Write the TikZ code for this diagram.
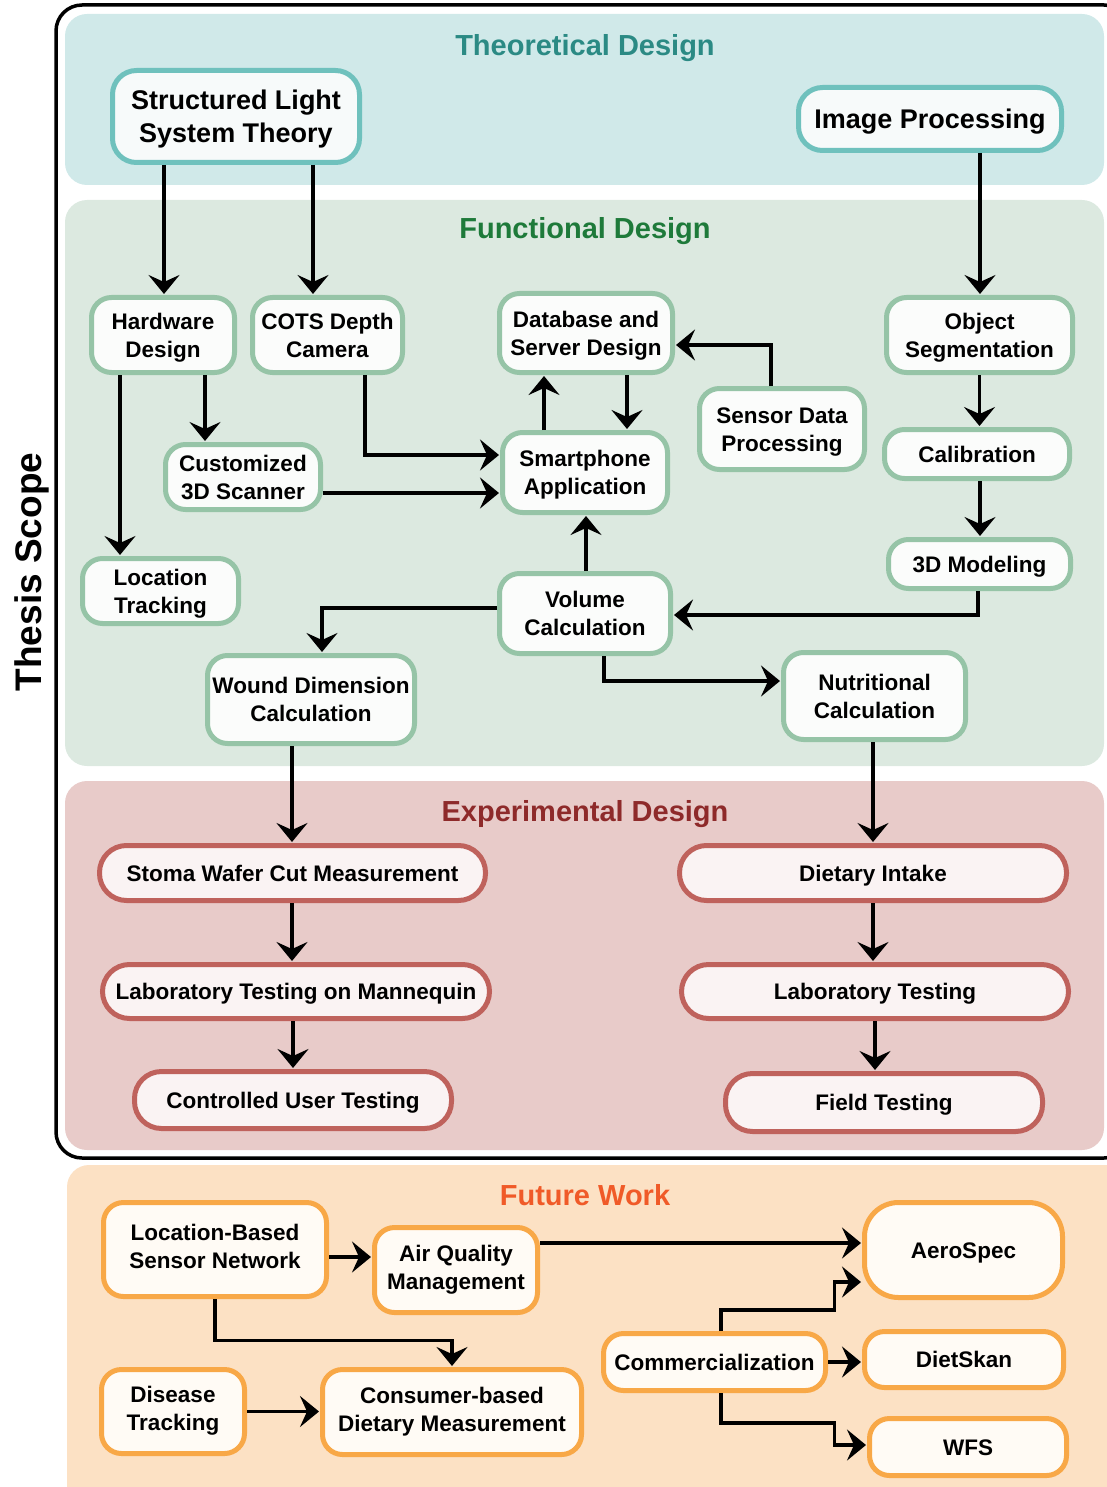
\documentclass[tikz,border=0pt]{standalone}
\usepackage{fontspec}
\setmainfont{Liberation Sans}
\usetikzlibrary{arrows.meta,calc}

% band and box colours
\definecolor{theoBg}{HTML}{D0E9E9}
\definecolor{theoLine}{HTML}{6FC1BD}
\definecolor{theoFill}{HTML}{F7FAFA}
\definecolor{theoTitle}{HTML}{2B8A84}
\definecolor{funcBg}{HTML}{DCE9E0}
\definecolor{funcLine}{HTML}{96C4A7}
\definecolor{funcFill}{HTML}{FBFCFB}
\definecolor{funcTitle}{HTML}{1E7A3A}
\definecolor{expBg}{HTML}{E8CBC9}
\definecolor{expLine}{HTML}{BF625C}
\definecolor{expFill}{HTML}{FAF3F3}
\definecolor{expTitle}{HTML}{8E2A2A}
\definecolor{futBg}{HTML}{FCE1C4}
\definecolor{futLine}{HTML}{F8A847}
\definecolor{futFill}{HTML}{FFFBF5}
\definecolor{futTitle}{HTML}{F05A28}

% invisible strut so text is centred on its capitals, whatever its descenders
\newcommand\capstrut{\rule[-0.28em]{0pt}{1.276em}}

\tikzset{
  centred/.style={execute at begin node=\capstrut, execute at end node=\capstrut},
  box/.style={draw, line width=5pt, rounded corners=20pt, align=center, inner sep=0pt, centred,
    font=\bfseries\fontsize{22.5}{28}\selectfont},
  theo/.style={box, draw=theoLine, fill=theoFill, font=\bfseries\fontsize{27}{33}\selectfont, rounded corners=24pt},
  func/.style={box, draw=funcLine, fill=funcFill},
  expb/.style={box, draw=expLine, fill=expFill, rounded corners=27pt},
  futb/.style={box, draw=futLine, fill=futFill},
  band/.style={rounded corners=22pt},
  title/.style={font=\bfseries\fontsize{29}{34}\selectfont, inner sep=0pt, centred},
  arr/.style={line width=3.3pt, -{Stealth[length=19pt,width=31pt,inset=7pt]}, shorten >=1pt},
}

\begin{document}
\begin{tikzpicture}[x=1pt,y=-1pt]
\useasboundingbox (0,0) rectangle (1106,1487);

% ---- bands ----
\fill[band, theoBg] (65,14) rectangle (1104,185);
\fill[band, funcBg] (65,200) rectangle (1104,766);
\fill[band, expBg] (65,781) rectangle (1104,1150);
\fill[band, futBg] (67,1165) rectangle (1130,1510);

% thesis scope frame
\draw[line width=3.5pt, rounded corners=26pt] (56,5) rectangle (1130,1158);
\node[rotate=90, inner sep=0pt, centred, font=\bfseries\fontsize{37}{40}\selectfont] (scope) at (28,572) {Thesis Scope};

% ---- band titles ----
\node[title, text=theoTitle] (tTheo) at (585,45) {Theoretical Design};
\node[title, text=funcTitle] (tFunc) at (585,228) {Functional Design};
\node[title, text=expTitle] (tExp) at (585,811) {Experimental Design};
\node[title, text=futTitle] (tFut) at (585,1195) {Future Work};

% ---- theoretical design ----
\node[theo, minimum width=247pt, minimum height=92pt] (SLST) at (236,116.5) {\capstrut Structured Light\\System Theory};
\node[theo, minimum width=263pt, minimum height=63pt] (IP) at (930,119) {Image Processing};

% ---- functional design ----
\node[func, minimum width=143pt, minimum height=75pt] (HW) at (163,335) {\capstrut Hardware\\Design};
\node[func, minimum width=150pt, minimum height=75pt] (COTS) at (327.5,335) {\capstrut COTS Depth\\Camera};
\node[func, minimum width=173pt, minimum height=79pt] (DB) at (586,333) {\capstrut Database and\\Server Design};
\node[func, minimum width=186pt, minimum height=75pt] (OS) at (979.5,335) {\capstrut Object\\Segmentation};
\node[func, minimum width=155pt, minimum height=65pt] (CUS) at (243,477) {\capstrut Customized\\3D Scanner};
\node[func, minimum width=165pt, minimum height=80pt] (SP) at (585,472.5) {\capstrut Smartphone\\Application};
\node[func, minimum width=165pt, minimum height=81pt] (SDP) at (782,429) {\capstrut Sensor Data\\Processing};
\node[func, minimum width=185pt, minimum height=49pt] (CAL) at (977,454) {Calibration};
\node[func, minimum width=182pt, minimum height=49pt] (TDM) at (979.5,564) {3D Modeling};
\node[func, minimum width=156pt, minimum height=65pt] (LT) at (160.5,591) {\capstrut Location\\Tracking};
\node[func, minimum width=171pt, minimum height=80pt] (VC) at (585,613.5) {\capstrut Volume\\Calculation};
\node[func, minimum width=207pt, minimum height=88pt] (WD) at (311,699.5) {\capstrut Wound Dimension\\Calculation};
\node[func, minimum width=182pt, minimum height=87pt] (NC) at (874.5,696) {\capstrut Nutritional\\Calculation};

% ---- experimental design ----
\node[expb, minimum width=386pt, minimum height=55pt] (SWC) at (292.5,873) {Stoma Wafer Cut Measurement};
\node[expb, minimum width=387pt, minimum height=54pt] (LTM) at (296,991.5) {Laboratory Testing on Mannequin};
\node[expb, minimum width=317pt, minimum height=57pt] (CUT) at (293,1100) {Controlled User Testing};
\node[expb, minimum width=387pt, minimum height=55pt] (DI) at (873,873) {Dietary Intake};
\node[expb, minimum width=387pt, minimum height=54pt] (LTS) at (875,991.5) {Laboratory Testing};
\node[expb, minimum width=317pt, minimum height=58pt] (FT) at (884,1102.5) {Field Testing};

% ---- future work (two-line labels sit slightly high in their boxes) ----
\node[futb, minimum width=223pt, minimum height=94pt] (LBSN) at (215,1249.5) {Location-Based\\Sensor Network};
\node[futb, minimum width=163pt, minimum height=85pt] (AQM) at (456,1270) {Air Quality\\Management};
\node[futb, minimum width=198pt, minimum height=95pt, rounded corners=34pt] (AS) at (963.5,1250) {AeroSpec};
\node[futb, minimum width=222pt, minimum height=57pt] (COM) at (714.5,1362) {Commercialization};
\node[futb, minimum width=199pt, minimum height=56pt] (DS) at (964,1359.5) {DietSkan};
\node[futb, minimum width=143pt, minimum height=84pt] (DT) at (173,1411.5) {Disease\\Tracking};
\node[futb, minimum width=259pt, minimum height=85pt] (CDM) at (452,1412) {Consumer-based\\Dietary Measurement};
\node[futb, minimum width=197pt, minimum height=57pt] (WFS) at (968,1447) {WFS};

% ---- connector anchor points ----
\coordinate (a1) at ([xshift=-72pt]SLST.south);
\coordinate (a2) at ([xshift=77pt]SLST.south);
\coordinate (a3) at ([xshift=50pt]IP.south);
\coordinate (a4) at ([xshift=-43pt]HW.south);
\coordinate (a5) at ([xshift=42pt]HW.south);
\coordinate (a6) at ([xshift=37.5pt]COTS.south);
\coordinate (b6) at ([yshift=17.5pt]SP.west);
\coordinate (b7) at ([yshift=-20.5pt]SP.west);
\coordinate (a8) at ([xshift=-41pt]SP.north);
\coordinate (a9) at ([xshift=41pt]DB.south);
\coordinate (a10) at ([xshift=-11pt]SDP.north);
\coordinate (b10) at ([yshift=-12pt]DB.east);
\coordinate (a12) at ([xshift=3pt]CAL.south);
\coordinate (a13) at ([xshift=-1.5pt]TDM.south);
\coordinate (b13) at ([yshift=-1.5pt]VC.east);
\coordinate (a14) at ([xshift=1pt]VC.north);
\coordinate (b15) at ([yshift=5.5pt]VC.west);
\coordinate (a15) at ([xshift=11pt]WD.north);
\coordinate (a16) at ([xshift=19pt]VC.south);
\coordinate (b16) at ([yshift=15pt]NC.west);
\coordinate (a17) at ([xshift=-19pt]WD.south);
\coordinate (a18) at ([xshift=-1.5pt]NC.south);
\coordinate (a19) at ([xshift=-0.5pt]SWC.south);
\coordinate (a20) at ([xshift=-3pt]LTM.south);
\coordinate (b21) at ([yshift=-7.5pt]LBSN.east);
\coordinate (b22) at ([yshift=27pt]AQM.east);
\coordinate (a23) at ([xshift=6.5pt]COM.north);
\coordinate (b23) at ([yshift=-32pt]AS.west);
\coordinate (c23) at ([xshift=-27.5pt,yshift=-28pt]b23);
\coordinate (a24) at ([xshift=6.5pt]COM.south);
\coordinate (b24) at ([yshift=2pt]WFS.west);
\coordinate (c24) at ([xshift=-32.5pt,yshift=22pt]b24);
\coordinate (m25) at ([yshift=-41.5pt]LBSN.south);

% ---- connectors ----
\draw[arr] (a1) -- (a1 |- HW.north);
\draw[arr] (a2) -- (a2 |- COTS.north);
\draw[arr] (a3) -- (a3 |- OS.north);
\draw[arr] (a4) -- (a4 |- LT.north);
\draw[arr] (a5) -- (a5 |- CUS.north);
\draw[arr] (a6) |- (b6);
\draw[arr] (CUS.east |- b7) -- (b7);
\draw[arr] (a8) -- (a8 |- DB.south);
\draw[arr] (a9) -- (a9 |- SP.north);
\draw[arr] (a10) |- (b10);
\draw[arr] (OS.south) -- (OS.south |- CAL.north);
\draw[arr] (a12) -- (a12 |- TDM.north);
\draw[arr] (a13) |- (b13);
\draw[arr] (a14) -- (a14 |- SP.south);
\draw[arr] (b15) -| (a15);
\draw[arr] (a16) |- (b16);
\draw[arr] (a17) -- (a17 |- SWC.north);
\draw[arr] (a18) -- (a18 |- DI.north);
\draw[arr] (a19) -- (a19 |- LTM.north);
\draw[arr] (a20) -- (a20 |- CUT.north);
\draw[arr] (DI.south) -- (DI.south |- LTS.north);
\draw[arr] (LTS.south) -- (LTS.south |- FT.north);
\draw[arr] (b21) -- (b21 -| AQM.west);
\draw[arr] (b22) -- (b22 -| AS.west);
\draw[arr] (LBSN.south) -- (m25) -| (CDM.north);
\draw[arr] (DT.east) -- (DT.east -| CDM.west);
\draw[arr] (a23) |- (c23) |- (b23);
\draw[arr] (COM.east) -- (COM.east -| DS.west);
\draw[arr] (a24) |- (c24) |- (b24);
\end{tikzpicture}
\end{document}
